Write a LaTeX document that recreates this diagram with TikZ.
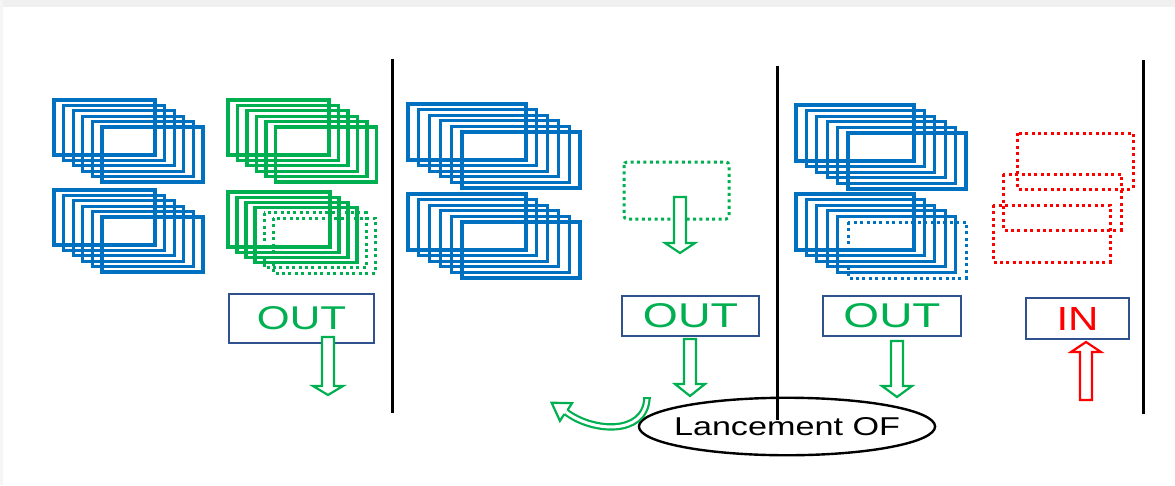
\documentclass[tikz,border=0pt]{standalone}
\usepackage{fontspec}
\setmainfont{Liberation Sans}
\usepackage{graphicx}
\usetikzlibrary{shapes.geometric}

\definecolor{ofblue}{HTML}{0070C0}
\definecolor{ofgreen}{HTML}{00B050}
\definecolor{ofred}{HTML}{FF0000}
\definecolor{boxline}{HTML}{2F528F}

\tikzset{
  lot/.style={line width=3.2pt},
  ghost/.style={line width=3pt, dash pattern=on 3pt off 3.4pt},
  tag/.style={rectangle, draw=boxline, line width=1.3pt, inner sep=0pt},
  wall/.style={line width=3pt, black},
}

% hollow block arrow: colour, x, tail y, head base y, tip y
\newcommand{\fatarrow}[5]{%
  \draw[#1, line width=2.2pt, fill=white] (#2-6,#3) -- (#2+6,#3) -- (#2+6,#4)
    -- (#2+15,#4) -- (#2,#5) -- (#2-15,#4) -- (#2-6,#4) -- cycle;}

\begin{document}
\begin{tikzpicture}[x=1pt, y=-1pt]
	\useasboundingbox (0,0) rectangle (1175,485);
	\fill[gray!12] (0,0) rectangle (1175,7);
	\fill[gray!8] (0,0) rectangle (3,485);

	\foreach \i in {0,...,5} {
		\draw[lot, ofblue] (54+9.6*\i,100+5.4*\i) rectangle ++(101,55);
		\draw[lot, ofblue] (54+9.6*\i,190+5.4*\i) rectangle ++(101,55);
		\draw[lot, ofgreen] (228+9.5*\i,100+5.4*\i) rectangle ++(101,55);
		\draw[lot, ofblue] (408+10.8*\i,104+5.6*\i) rectangle ++(118,56);
		\draw[lot, ofblue] (408+10.8*\i,194+5.6*\i) rectangle ++(118,56);
		\draw[lot, ofblue] (796+10.4*\i,105+5.6*\i) rectangle ++(118,56);
	}
	\foreach \i in {0,...,3}
		\draw[lot, ofgreen] (228+9*\i,192+5.2*\i) rectangle ++(102,55);
	\foreach \i in {4,5}
		\draw[ghost, ofgreen] (228+9*\i,192+5.2*\i) rectangle ++(102,55);
	\foreach \i in {0,...,4}
		\draw[lot, ofblue] (796+10.4*\i,194+5.6*\i) rectangle ++(118,56);
	\draw[ghost, ofblue] (848,222) rectangle ++(118,56);

	\draw[ghost, ofgreen, rounded corners=3pt] (624,162) rectangle (729,219);
	\draw[ghost, ofred] (1017,133) rectangle (1133,189);
	\draw[ghost, ofred] (1003,174) rectangle (1121,230);
	\draw[ghost, ofred] (993,205) rectangle (1110,262);

	\node[tag, minimum width=145pt, minimum height=49pt, text=ofgreen] (out1) at (301.5,318.5) {\resizebox{89pt}{23pt}{OUT}};
	\node[tag, minimum width=137pt, minimum height=40pt, text=ofgreen] (out2) at (690.5,316) {\resizebox{95pt}{24pt}{OUT}};
	\node[tag, minimum width=138pt, minimum height=40pt, text=ofgreen] (out3) at (892,316) {\resizebox{97pt}{24pt}{OUT}};
	\node[tag, minimum width=103pt, minimum height=41pt, text=ofred] (in) at (1077.5,318.5) {\resizebox{42pt}{23pt}{IN}};
	\node[ellipse, draw, line width=2.4pt, inner xsep=-8.3pt, inner ysep=11.2pt] (launch) at (787,426.5) {\resizebox{226pt}{18pt}{Lancement OF}};

	\draw[wall] (392,59) -- (392,413);
	\draw[wall] (777,66) -- (777,420);
	\draw[wall] (1143,60) -- (1143,414);

	\fatarrow{ofgreen}{680}{197}{243}{253}
	\fatarrow{ofgreen}{328}{337}{386}{395}
	\fatarrow{ofgreen}{690}{339}{384}{396}
	\fatarrow{ofgreen}{897}{341}{386}{397}
	\fatarrow{ofred}{1086}{400}{352}{342}

	% turning arrow beside the launch
	\draw[ofgreen, line width=2.2pt, double=white, double distance=3pt] (647,398) .. controls (645,436) and (592,432) .. (566,412);
	\draw[ofgreen, line width=2.2pt, line join=miter] (567.6,410) -- (572,403.2) -- (551.6,402.7) -- (559.9,420.8) -- (564.4,414);
	\draw[ofgreen, line width=2.2pt] (643.3,398) -- (650.7,398);
\end{tikzpicture}
\end{document}
